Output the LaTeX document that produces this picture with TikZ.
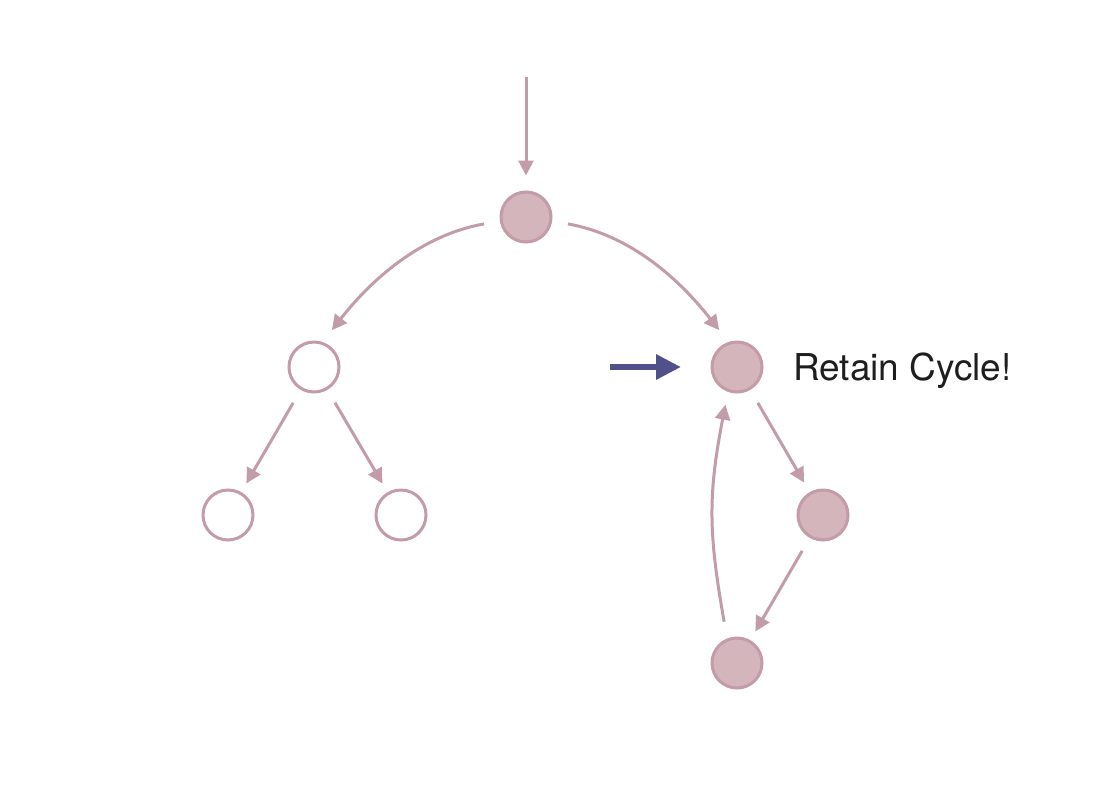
\documentclass[tikz,border=0pt]{standalone}
\usepackage{fontspec}
\setmainfont{TeX Gyre Heros}
\usetikzlibrary{arrows.meta}
\definecolor{edgec}{HTML}{C39CAA}
\definecolor{ringc}{HTML}{C49BA8}
\definecolor{fillc}{HTML}{D4B5BC}
\definecolor{bluec}{HTML}{50508A}
\definecolor{textc}{HTML}{1E1E1E}
\tikzset{
  objfull/.style={circle, minimum size=50pt, inner sep=0pt, line width=3pt, draw=ringc, fill=fillc},
  objempty/.style={circle, minimum size=50pt, inner sep=0pt, line width=3pt, draw=ringc, fill=white},
  link/.style={draw=edgec, line width=3pt, -{Triangle[length=15pt,width=15pt]}},
  pointer/.style={draw=bluec, line width=6pt, -{Triangle[length=25pt,width=24pt]}},
  label/.style={font=\fontsize{37}{41}\selectfont, text=textc, inner sep=0pt, anchor=base west}
}
\begin{document}
\begin{tikzpicture}[x=1pt,y=-1pt]
\useasboundingbox (0,0) rectangle (1099,785);
\fill[white] (0,0) rectangle (1099,785);
\node[objfull] (top) at (526,217) {};
\node[objempty] (lm) at (314,367) {};
\node[objfull] (rm) at (737,367) {};
\node[objempty] (bl) at (228,515) {};
\node[objempty] (bm) at (401,515) {};
\node[objfull] (r) at (823,515) {};
\node[objfull] (b) at (737,663) {};
\coordinate (entry) at (526,77);
\coordinate (ptr) at (610,367);
\node[label] (txt) at (793,380) {Retain Cycle!};

\draw[link, shorten >=15pt] (entry) -- (top);
\draw[link, shorten <=16pt, shorten >=15pt] (top.189) to[out=190, in=52, looseness=0.95] (lm.71);
\draw[link, shorten <=16pt, shorten >=15pt] (top.351) to[out=-10, in=128, looseness=0.95] (rm.109);
\draw[link, shorten <=15pt, shorten >=10pt] (lm) -- (bl);
\draw[link, shorten <=15pt, shorten >=10pt] (lm) -- (bm);
\draw[link, shorten <=15pt, shorten >=11pt] (rm) -- (r);
\draw[link, shorten <=15pt, shorten >=10pt] (r) -- (b);
\draw[link, shorten <=17pt, shorten >=13pt] (b.112) to[out=100, in=259, looseness=1.1] (rm.250);
\draw[pointer, shorten >=29.5pt] (ptr) -- (rm);
\end{tikzpicture}
\end{document}
